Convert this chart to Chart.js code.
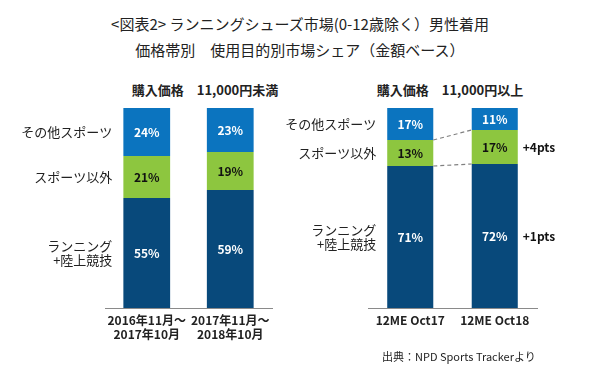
<!DOCTYPE html>
<html lang="ja">
<head>
<meta charset="UTF-8" />
<title>ランニングシューズ市場 価格帯別 使用目的別市場シェア</title>
<script src="https://cdn.jsdelivr.net/npm/chart.js"></script>
<style>
  body { margin:0; width:600px; height:377px; background:#fff; position:relative; overflow:hidden;
         font-family:'Noto Sans CJK JP','Noto Sans',sans-serif; color:#222; }
  .t { position:absolute; left:0; width:600px; text-align:center; font-size:15px; }
  .sub { position:absolute; font-size:13px; font-weight:bold; white-space:nowrap; transform:translateX(-50%); }
  .src { position:absolute; left:382px; top:348px; font-size:11px; }
  .box { position:absolute; top:60px; height:290px; }
</style>
</head>
<body>
<div class="t" style="top:13px">&lt;図表2&gt; ランニングシューズ市場(0-12歳除く）男性着用</div>
<div class="t" style="top:39px">価格帯別　使用目的別市場シェア（金額ベース）</div>
<div class="sub" style="left:205px; top:80px">購入価格　11,000円未満</div>
<div class="sub" style="left:450px; top:80px">購入価格　11,000円以上</div>
<div class="box" style="left:0; width:290px"><canvas id="left"></canvas></div>
<div class="box" style="left:270px; width:330px"><canvas id="right"></canvas></div>
<div class="src">出典：NPD Sports Trackerより</div>

<script>
// ---- データ ----
const leftCats   = [['2016年11月～','2017年10月'], ['2017年11月～','2018年10月']];
const rightCats  = ['12ME Oct17', '12ME Oct18'];
const segNames   = [['ランニング','+陸上競技'], ['スポーツ以外'], ['その他スポーツ']];

const leftRunning  = [55, 59];
const leftNonSport = [21, 19];
const leftOther    = [24, 23];

const rightRunning  = [71, 72];
const rightNonSport = [13, 17];
const rightOther    = [17, 11];

const rightDiffs = ['+1pts', '+4pts'];   // ランニング, スポーツ以外

// ---- 色 ----
const colors    = ['#08497b', '#8dc63f', '#0b74bf'];
const txtColors = ['#fff', '#111', '#fff'];
const FONT = "'Noto Sans CJK JP','Noto Sans',sans-serif";

// ---- ラベル描画プラグイン ----
const labelPlugin = {
  id: 'labels',
  afterDatasetsDraw(chart, args, opts) {
    const ctx = chart.ctx, area = chart.chartArea;
    const metas = chart.data.datasets.map((d, i) => chart.getDatasetMeta(i));
    ctx.save();
    ctx.textBaseline = 'middle';

    // 値ラベル
    metas.forEach((m, di) => {
      m.data.forEach((el, i) => {
        const top = Math.max(el.y, area.top);
        ctx.font = 'bold 12px ' + FONT;
        ctx.fillStyle = txtColors[di];
        ctx.textAlign = 'center';
        ctx.fillText(chart.data.datasets[di].data[i] + '%', el.x, (top + el.base) / 2);
      });
    });

    // 左側の区分名
    ctx.font = '13px ' + FONT;
    ctx.fillStyle = '#222';
    ctx.textAlign = 'right';
    metas.forEach((m, di) => {
      const el = m.data[0];
      const top = Math.max(el.y, area.top);
      const mid = (top + el.base) / 2;
      const lines = segNames[di];
      const x = el.x - el.width / 2 - 11;
      lines.forEach((ln, k) => {
        ctx.fillText(ln, x, mid + (k - (lines.length - 1) / 2) * 14);
      });
    });

    // 破線と差分
    if (opts.diffs) {
      ctx.strokeStyle = '#808080';
      ctx.lineWidth = 1.2;
      ctx.setLineDash([4, 3]);
      [0, 1].forEach(di => {
        const a = metas[di].data[0], b = metas[di].data[1];
        ctx.beginPath();
        ctx.moveTo(a.x + a.width / 2, a.y);
        ctx.lineTo(b.x - b.width / 2, b.y);
        ctx.stroke();
      });
      ctx.setLineDash([]);
      ctx.font = 'bold 12px ' + FONT;
      ctx.fillStyle = '#111';
      ctx.textAlign = 'left';
      opts.diffs.forEach((t, di) => {
        const el = metas[di].data[1];
        ctx.fillText(t, el.x + el.width / 2 + 5, (el.y + el.base) / 2);
      });
    }
    ctx.restore();
  }
};

function makeChart(id, cats, series, pad, pct, diffs) {
  return new Chart(document.getElementById(id), {
    type: 'bar',
    data: {
      labels: cats,
      datasets: series.map((s, i) => ({
        data: s,
        backgroundColor: colors[i],
        borderWidth: 0,
        barPercentage: 1,
        categoryPercentage: pct
      }))
    },
    options: {
      responsive: true,
      maintainAspectRatio: false,
      animation: false,
      layout: { padding: pad },
      scales: {
        x: {
          stacked: true,
          grid: { display: false },
          border: { display: true, color: '#8a8a8a', width: 1 },
          ticks: { color: '#222', font: { family: FONT, size: 12, weight: 'bold', lineHeight: 1.15 }, padding: -2, maxRotation: 0 },
          afterFit: s => { s.height = 42; }
        },
        y: { stacked: true, display: false, min: 0, max: 100 }
      },
      plugins: {
        legend: { display: false },
        tooltip: { enabled: false },
        labels: { diffs }
      }
    },
    plugins: [labelPlugin]
  });
}

makeChart('left', leftCats, [leftRunning, leftNonSport, leftOther],
  { left: 105, right: 18, top: 48, bottom: 0 }, 0.56, null);
makeChart('right', rightCats, [rightRunning, rightNonSport, rightOther],
  { left: 98, right: 63, top: 48, bottom: 0 }, 0.545, rightDiffs);
</script>
</body>
</html>
